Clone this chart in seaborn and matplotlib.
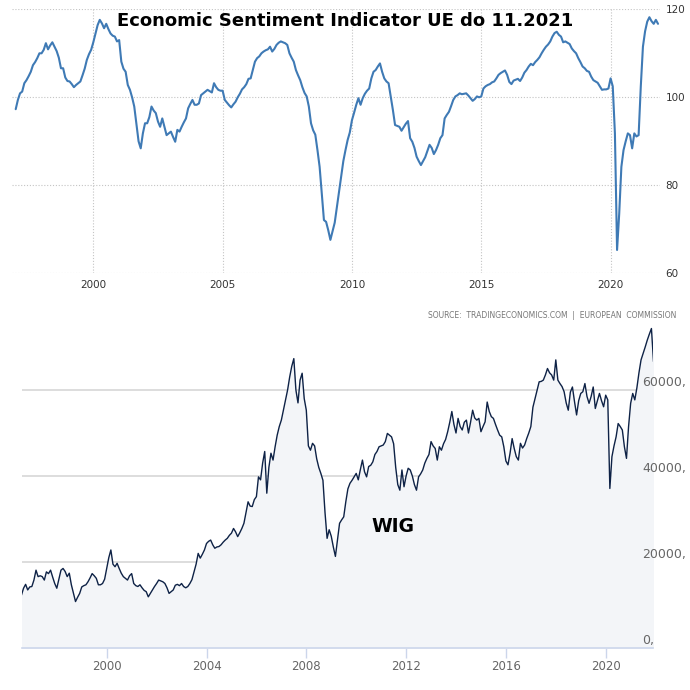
import numpy as np
import pandas as pd
import matplotlib
matplotlib.use("Agg")
import matplotlib.pyplot as plt
import matplotlib.transforms as mtrans
import seaborn as sns

sns.set_theme(style="white")
plt.rcParams["font.family"] = ["DejaVu Sans"]

# ---------------- data ----------------
title = "Economic Sentiment Indicator UE do 11.2021"
source = "SOURCE:  TRADINGECONOMICS.COM  |  EUROPEAN  COMMISSION"
wig_label = "WIG"

esi_start = "1997-01-01"
esi_values = [
    97.3, 99.4, 100.9, 101.3, 103.2, 103.9, 104.8, 105.8, 107.3, 108.0, 108.9, 110.0,
    110.0, 110.8, 112.3, 110.9, 111.8, 112.5, 111.5, 110.5, 109.0, 106.6, 106.6, 104.5,
    103.7, 103.6, 103.0, 102.3, 102.8, 103.2, 103.6, 105.0, 106.5, 108.5, 109.8, 110.8,
    112.5, 114.5, 116.4, 117.6, 116.8, 115.7, 116.7, 115.5, 114.5, 114.0, 113.8, 112.7,
    113.0, 108.1, 106.5, 105.8, 102.8, 101.7, 100.0, 97.9, 94.0, 90.0, 88.4, 91.8,
    94.1, 94.1, 95.5, 97.9, 97.0, 96.4, 94.5, 93.3, 95.2, 93.3, 91.4, 91.8,
    92.2, 91.0, 89.9, 92.6, 92.2, 93.3, 94.3, 95.2, 97.5, 98.5, 99.4, 98.3,
    98.3, 98.6, 100.5, 100.9, 101.3, 101.7, 101.4, 101.1, 103.2, 102.3, 101.7, 101.5,
    101.5, 99.4, 98.8, 98.2, 97.7, 98.4, 99.0, 100.0, 100.8, 101.8, 102.3, 103.0,
    104.2, 104.3, 106.2, 108.1, 108.9, 109.3, 110.0, 110.4, 110.7, 110.9, 111.5, 110.4,
    111.0, 111.9, 112.4, 112.7, 112.5, 112.3, 111.9, 110.0, 109.0, 108.1, 106.2, 105.0,
    103.9, 102.3, 101.0, 100.2, 97.9, 94.1, 92.5, 91.5, 88.0, 84.2, 78.2, 72.1,
    71.7, 69.8, 67.6, 69.5, 71.5, 75.0, 78.5, 82.0, 85.5, 88.0, 90.3, 92.0,
    94.8, 96.5, 98.3, 99.8, 98.3, 99.8, 100.8, 101.5, 102.0, 104.3, 105.8, 106.2,
    107.0, 107.7, 105.8, 104.3, 103.6, 103.2, 100.2, 97.1, 93.7, 93.5, 93.3, 92.4,
    93.2, 94.0, 94.6, 90.7, 89.9, 88.5, 86.5, 85.5, 84.6, 85.5, 86.4, 87.8,
    89.2, 88.5, 87.1, 88.0, 89.2, 90.7, 91.4, 95.2, 96.0, 96.7, 98.0, 99.4,
    100.2, 100.5, 100.9, 100.7, 100.8, 100.9, 100.4, 99.8, 99.2, 99.6, 100.2, 100.0,
    100.2, 102.0, 102.5, 102.8, 103.0, 103.4, 103.6, 104.3, 105.1, 105.5, 105.8, 106.1,
    105.1, 103.5, 103.0, 103.8, 104.0, 104.2, 103.7, 104.5, 105.6, 106.2, 107.0, 107.6,
    107.3, 108.0, 108.5, 109.1, 110.0, 110.8, 111.5, 112.0, 112.7, 113.8, 114.6, 114.9,
    114.2, 113.8, 112.5, 112.7, 112.4, 112.1, 111.1, 110.5, 110.0, 108.9, 108.0, 107.0,
    106.6, 106.0, 105.8, 104.7, 103.9, 103.6, 103.3, 102.5, 101.7, 101.8, 101.8, 102.0,
    104.3, 102.5, 91.8, 65.3, 73.6, 84.2, 88.0, 90.0, 91.8, 91.4, 88.4, 91.8,
    91.1, 91.4, 102.4, 111.5, 115.0, 117.2, 118.2, 117.3, 116.7, 117.6, 116.7,
]
esi_xticks = [2000, 2005, 2010, 2015, 2020]
esi_yticks = [60, 80, 100, 120]

wig_start = "1996-08-01"
wig_values = [
    12300, 13900, 14800, 13500, 14200,
    14300, 15800, 18100, 16600, 16800, 16600, 15800, 17700, 17300, 18100, 16500, 15000,
    13900, 16000, 18100, 18500, 17800, 16600, 17400, 14700, 12700, 10800, 11800, 12700,
    14200, 14500, 14700, 15400, 16300, 17300, 16800, 16200, 14700, 14700, 15000, 16000,
    18500, 21000, 22800, 19500, 18900, 19700, 18500, 17400, 16600, 16200, 15800, 16800,
    17300, 15000, 14500, 14300, 14700, 14000, 13400, 13100, 11900, 12700, 13500, 14300,
    15000, 15800, 15600, 15400, 15000, 14000, 12700, 13100, 13500, 14600, 14800, 14500,
    15000, 14300, 14000, 14300, 15000, 15900, 17700, 19500, 22000, 20900, 21800, 22800,
    24300, 24800, 25100, 24000, 23200, 23500, 23600, 24000, 24600, 25100, 25500, 26200,
    26700, 27800, 27000, 25900, 26800, 27800, 29000, 31500, 34000, 33000, 32900, 34500,
    35200, 39800, 39100, 43000, 45700, 36000, 42000, 45300, 43700, 46800, 49500, 51500,
    53000, 55300, 57500, 60000, 63000, 65500, 67300, 60000, 57000, 62300, 63900, 58000,
    55300, 47000, 46000, 47600, 47000, 44000, 42000, 40600, 39000, 31500, 25500, 27500,
    26000, 23500, 21300, 25100, 29000, 29800, 30500, 34000, 37000, 38300, 39000, 39800,
    40600, 39100, 41500, 43700, 41000, 39800, 42200, 42500, 43300, 45000, 45700, 46800,
    47000, 47200, 48000, 49900, 49500, 49100, 47500, 42000, 38000, 36700, 41400, 37500,
    40000, 41800, 41400, 40000, 38000, 36700, 39800, 40500, 41400, 43000, 44100, 45000,
    48000, 47000, 46400, 43700, 46800, 46000, 47500, 48500, 50300, 52500, 55000, 52000,
    50000, 53400, 51500, 50700, 52500, 53000, 50000, 52500, 55300, 53500, 53000, 53400,
    50300, 51500, 52600, 57200, 55000, 53800, 53400, 52000, 50700, 49500, 49100, 46800,
    43500, 42600, 45300, 48700, 46400, 44500, 43700, 47600, 46500, 47200, 48700, 50000,
    51500, 56000, 58000, 60000, 61900, 62000, 62300, 63500, 65000, 64000, 63500, 62300,
    67000, 62300, 61500, 60800, 59600, 57000, 55300, 59500, 60700, 57300, 54200, 57500,
    59200, 59600, 61500, 58500, 56900, 58500, 60700, 55700, 57500, 59200, 57500, 56100,
    58800, 57700, 37100, 44500, 47000, 49100, 52200, 51500, 50700, 46800, 44100, 51500,
    56900, 59200, 57700, 60500, 64000, 67000, 68500, 70000, 71600, 73000, 74300, 66600,
]
wig_xticks = [2000, 2004, 2008, 2012, 2016, 2020]
wig_yticks = [0, 20000, 40000, 60000]
wig_ylabels = ["0,", "20000,", "40000,", "60000,"]


def decimal_years(start, n):
    d = pd.date_range(start, periods=n, freq="MS")
    return d.year + (d.month - 1) / 12.0


esi = pd.DataFrame({"t": decimal_years(esi_start, len(esi_values)), "v": esi_values})
wig = pd.DataFrame({"t": decimal_years(wig_start, len(wig_values)), "v": wig_values})

# ---------------- figure ----------------
W = H = 690
fig = plt.figure(figsize=(6.9, 6.9), dpi=100)
fig.patch.set_facecolor("white")

# top: ESI
ax1 = fig.add_axes([11.7 / W, 1 - 273.3 / H, (660 - 11.7) / W, 264 / H])
ax1.set_facecolor("white")
ax1.grid(True, color="#c4c4c4", linestyle=(0, (1, 1.6)), linewidth=0.8)
ax1.set_axisbelow(True)
sns.lineplot(data=esi, x="t", y="v", ax=ax1, color="#3f7ab5", linewidth=1.5)
ax1.set_xlim(1996.845, 2021.91)
ax1.set_ylim(60, 120)
ax1.set_xticks(esi_xticks)
ax1.set_xticklabels([str(t) for t in esi_xticks])
ax1.set_yticks(esi_yticks)
ax1.yaxis.tick_right()
ax1.tick_params(axis="both", length=0, labelsize=7.5, labelcolor="#333333")
ax1.tick_params(axis="x", pad=5)
ax1.tick_params(axis="y", pad=4)
for s in ax1.spines.values():
    s.set_visible(False)
ax1.set_xlabel("")
ax1.set_ylabel("")

# bottom: WIG
ax2 = fig.add_axes([22 / W, 1 - 648 / H, 631 / W, 322.5 / H])
ax2.set_facecolor("white")
ax2.fill_between(wig["t"], wig["v"], 0, color="#f3f5f8", linewidth=0, zorder=1)
ax2.set_yticks(wig_yticks)
ax2.yaxis.grid(True, color="#dadada", linewidth=1.3, zorder=0)
ax2.xaxis.grid(False)
sns.lineplot(data=wig, x="t", y="v", ax=ax2, color="#0e2246", linewidth=1.0, zorder=3)
ax2.set_xlim(1996.605, 2021.896)
ax2.set_ylim(0, 75000)
ax2.set_xticks(wig_xticks)
ax2.set_xticklabels([str(t) for t in wig_xticks])
ax2.tick_params(axis="x", length=7, width=1, color="#ccd6eb", labelsize=8.5,
                labelcolor="#666666", pad=2, bottom=True)
ax2.tick_params(axis="y", length=0, labelleft=False, labelright=False)
for k, s in ax2.spines.items():
    s.set_visible(k == "bottom")
ax2.spines["bottom"].set_color("#ccd6eb")
ax2.spines["bottom"].set_linewidth(1.2)
ax2.set_xlabel("")
ax2.set_ylabel("")

trans = mtrans.blended_transform_factory(fig.transFigure, ax2.transData)
trans = mtrans.offset_copy(trans, fig=fig, y=4, units="dots")
for v, lab in zip(wig_yticks, wig_ylabels):
    fig.text(642 / W, v, lab, transform=trans, ha="left", va="baseline",
             fontsize=9, color="#666666")

# texts
fig.text(345 / W, 1 - 20.5 / H, title, ha="center", va="center",
         fontsize=13, fontweight="bold", color="black")
fig.text(676 / W, 1 - 315 / H, source, ha="right", va="center",
         fontsize=5.5, color="#777777")
fig.text(393 / W, 1 - 526 / H, wig_label, ha="center", va="center",
         fontsize=13.5, fontweight="bold", color="black")

fig.savefig("out.png", dpi=100, facecolor="white")
